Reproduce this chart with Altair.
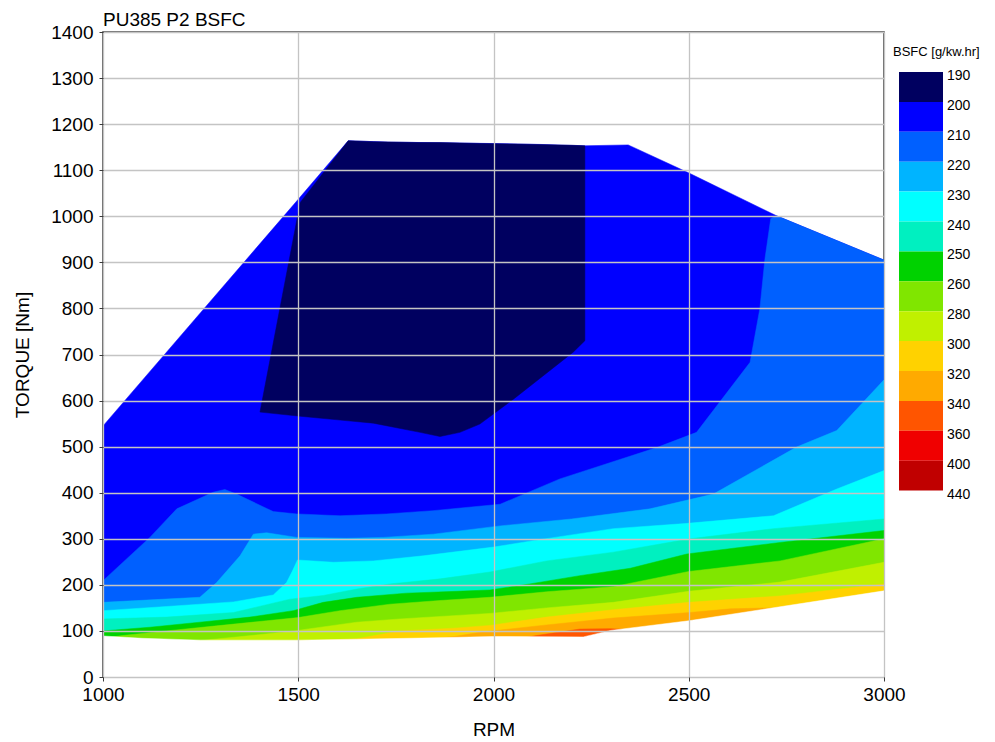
import altair as alt
import pandas as pd

FONT = "Liberation Sans"

# ---------------- data ----------------
# operating envelope (upper edge of the map), RPM / Nm
env_rpm = [1000, 1500, 1628, 1730, 1925, 2119, 2234, 2345, 2498, 2725, 3000]
env_tq = [545, 1037, 1164, 1161, 1159, 1156, 1153, 1155, 1095, 1001, 905]

# 190-200 island (top and bottom edge at the same RPM)
navy_rpm = [1402, 1505, 1628, 1692, 1812, 1863, 1914, 1965, 2051, 2204, 2234]
navy_top = [575, 1030, 1164, 1162, 1160, 1160, 1159, 1158, 1157, 1154, 1153]
navy_bot = [575, 566, 556, 551, 531, 522, 531, 549, 603, 705, 730]

# contour lines: region below each line has BSFC above the level
c210_rpm = [1000, 1120, 1189, 1282, 1312, 1342, 1436, 1496, 1607, 1726, 1845, 2017, 2170, 2418, 2520, 2657, 2682, 2695, 2710, 2725, 3000]
c210_tq = [209, 303, 365, 401, 407, 397, 359, 354, 350, 354, 361, 375, 430, 498, 531, 683, 799, 907, 995, 1001, 905]

c220_rpm = [1000, 1248, 1291, 1351, 1385, 1419, 1496, 1624, 1718, 1846, 2017, 2200, 2401, 2563, 2776, 2879, 3000]
c220_tq = [162, 173, 205, 263, 310, 313, 303, 301, 303, 310, 328, 343, 365, 397, 499, 535, 645]

c230_rpm = [1000, 1163, 1334, 1436, 1470, 1485, 1498, 1590, 1692, 1820, 2000, 2102, 2307, 2490, 2717, 2879, 3000]
c230_tq = [144, 153, 163, 178, 205, 230, 254, 249, 252, 263, 282, 296, 322, 333, 350, 408, 448]

c240_rpm = [1000, 1163, 1334, 1479, 1564, 1650, 1735, 1863, 1991, 2136, 2307, 2503, 2717, 3000]
c240_tq = [126, 130, 140, 169, 177, 191, 202, 213, 228, 252, 271, 300, 322, 343]

c250_rpm = [1000, 1120, 1248, 1376, 1487, 1564, 1650, 1777, 1906, 1991, 2093, 2221, 2350, 2495, 2734, 3000]
c250_tq = [100, 108, 119, 130, 144, 162, 173, 182, 186, 189, 202, 220, 236, 267, 292, 318]

c260_rpm = [1000, 1050, 1163, 1291, 1419, 1500, 1607, 1735, 1863, 1991, 2136, 2307, 2500, 2734, 3000]
c260_tq = [84, 90, 100, 111, 122, 129, 144, 158, 166, 173, 185, 196, 229, 252, 300]

c280_rpm = [1000, 1260, 1380, 1490, 1650, 1761, 1991, 2136, 2307, 2500, 2734, 3000]
c280_tq = [70, 80, 90, 100, 119, 126, 138, 150, 162, 186, 206, 249]

c300_rpm = [1000, 1500, 1650, 1761, 1900, 1991, 2136, 2307, 2500, 2734, 3000]
c300_tq = [60, 78, 83, 100, 106, 112, 130, 146, 162, 176, 202]

c320_rpm = [1000, 1800, 1900, 1965, 2136, 2307, 2503, 2606, 2717, 3000]
c320_tq = [50, 78, 88, 97, 113, 128, 140, 148, 150, 180]

c340_rpm = [1000, 2050, 2110, 2221, 2300, 2400, 3000]
c340_tq = [40, 80, 90, 104, 105, 100, 100]

# lower edge of the map
low_rpm = [1000, 1100, 1250, 1500, 1650, 1850, 2000, 2230, 2300, 2500, 3000]
low_tq = [89, 84, 80, 80, 82, 85, 88, 87, 101, 122, 187]

# legend
legend_labels = ["190", "200", "210", "220", "230", "240", "250", "260",
                 "280", "300", "320", "340", "360", "400", "440"]
legend_colors = ["#000060", "#0000ff", "#0060ff", "#00b4ff", "#00ffff", "#00f0c0",
                 "#00d200", "#80e600", "#c0f000", "#ffd200", "#ffaa00", "#ff5500",
                 "#f00000", "#c00000"]

x_ticks = [1000, 1500, 2000, 2500, 3000]
y_ticks = list(range(0, 1401, 100))

# ---------------- chart ----------------
xs = alt.Scale(domain=[1000, 3000], nice=False, zero=False)
ys = alt.Scale(domain=[0, 1400], nice=False)
x_enc = alt.X("rpm:Q", scale=xs,
              axis=alt.Axis(values=x_ticks, title="RPM", grid=True, zindex=1,
                            format="d", labelFlush=False, titlePadding=16,
                            labelPadding=4))
y_enc = alt.Y("tq:Q", scale=ys,
              axis=alt.Axis(values=y_ticks, title="TORQUE [Nm]", grid=True, zindex=1,
                            format="d", labelFlush=False, titlePadding=18,
                            labelPadding=6))


def area_layer(rpm, tq, color):
    df = pd.DataFrame({"rpm": rpm, "tq": tq})
    return alt.Chart(df).mark_area(color=color, clip=True, interpolate="linear",
                                   stroke=color, strokeWidth=0.5).encode(
        x=x_enc, y=y_enc, y2=alt.datum(0))


layers = [area_layer(env_rpm, env_tq, legend_colors[1])]

navy_df = pd.DataFrame({"rpm": navy_rpm, "tq": navy_top, "tq2": navy_bot})
layers.append(alt.Chart(navy_df).mark_area(color=legend_colors[0], clip=True,
                                           stroke=legend_colors[0], strokeWidth=0.5).encode(
    x=x_enc, y=y_enc, y2="tq2:Q"))

contours = [(c210_rpm, c210_tq), (c220_rpm, c220_tq), (c230_rpm, c230_tq),
            (c240_rpm, c240_tq), (c250_rpm, c250_tq), (c260_rpm, c260_tq),
            (c280_rpm, c280_tq), (c300_rpm, c300_tq), (c320_rpm, c320_tq),
            (c340_rpm, c340_tq)]
for i, (r, t) in enumerate(contours):
    layers.append(area_layer(r, t, legend_colors[i + 2]))

layers.append(area_layer(low_rpm, low_tq, "white"))

main = alt.layer(*layers).properties(
    width=781, height=645,
    title=alt.Title("PU385 P2 BSFC", anchor="start", frame="group", fontSize=19,
                    fontWeight="normal", font=FONT, color="black", offset=-7),
    view=alt.ViewBackground(stroke="#3a3a3a", strokeWidth=1.5),
)

# legend as its own small chart
n_blocks = len(legend_colors)
blk_df = pd.DataFrame({"i": list(range(n_blocks)), "i2": [k + 1 for k in range(n_blocks)],
                       "c": legend_colors})
lab_df = pd.DataFrame({"i": list(range(len(legend_labels))), "lab": legend_labels})
lys = alt.Scale(domain=[-1.338, 20.234], reverse=True, nice=False, zero=False)

blocks = alt.Chart(blk_df).mark_rect().encode(
    y=alt.Y("i:Q", scale=lys, axis=None), y2="i2:Q",
    x=alt.value(0), x2=alt.value(44),
    color=alt.Color("c:N", scale=None))
labels = alt.Chart(lab_df).mark_text(align="left", baseline="middle", dy=4, dx=0,
                                     fontSize=14, font=FONT, color="black").encode(
    y=alt.Y("i:Q", scale=lys, axis=None), x=alt.value(48), text="lab:N")
ltitle = alt.Chart(pd.DataFrame({"t": ["BSFC [g/kw.hr]"]})).mark_text(
    align="left", baseline="middle", fontSize=13, font=FONT, color="black",
    dx=-6).encode(
    x=alt.value(0), y=alt.value(20), text="t:N")

legend = alt.layer(blocks, labels, ltitle).properties(
    width=60, height=645, view=alt.ViewBackground(stroke="transparent"))

chart = alt.hconcat(main, legend, spacing=15, bounds="flush").properties(
    padding={"left": 4, "top": 2, "right": 0, "bottom": 0}
).configure_axis(
    labelFont=FONT, titleFont=FONT, labelFontSize=19, titleFontSize=19,
    titleFontWeight="normal", labelColor="black", titleColor="black",
    gridColor="#c4c4c4", gridWidth=1.3, domain=False, tickColor="#3a3a3a",
    tickSize=4,
).configure_view(stroke="transparent")

chart.save("out.html", embed_options={"renderer": "svg", "actions": False})
